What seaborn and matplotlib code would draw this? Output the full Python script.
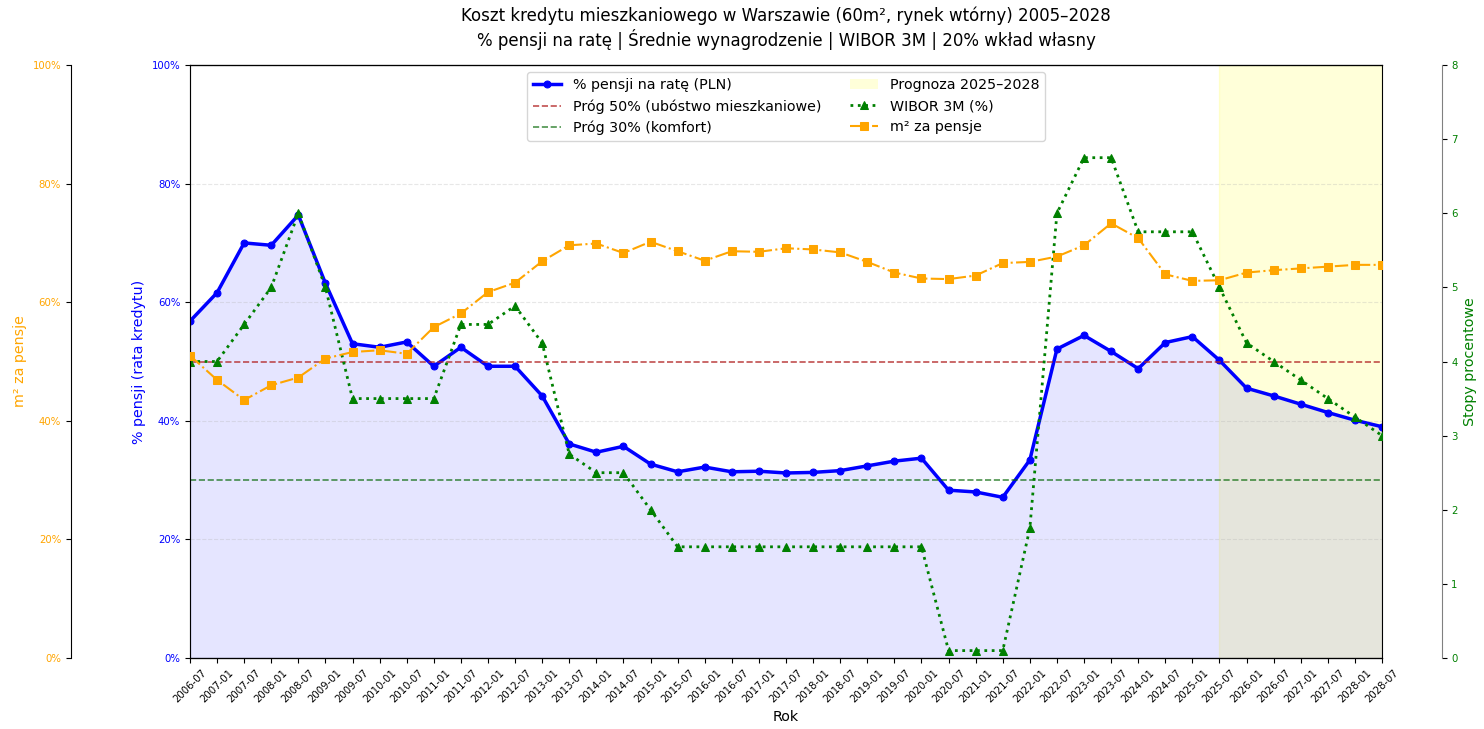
import matplotlib
matplotlib.use("Agg")
import matplotlib.pyplot as plt
import matplotlib.ticker as mtick
from matplotlib.patches import Patch
import seaborn as sns
import pandas as pd

# half-year periods
periods = ["2006-07", "2007-01", "2007-07", "2008-01", "2008-07", "2009-01", "2009-07",
           "2010-01", "2010-07", "2011-01", "2011-07", "2012-01", "2012-07", "2013-01",
           "2013-07", "2014-01", "2014-07", "2015-01", "2015-07", "2016-01", "2016-07",
           "2017-01", "2017-07", "2018-01", "2018-07", "2019-01", "2019-07", "2020-01",
           "2020-07", "2021-01", "2021-07", "2022-01", "2022-07", "2023-01", "2023-07",
           "2024-01", "2024-07", "2025-01", "2025-07", "2026-01", "2026-07", "2027-01",
           "2027-07", "2028-01", "2028-07"]

# share of salary going to the instalment
rate_share = [0.568, 0.616, 0.700, 0.696, 0.747, 0.632, 0.530, 0.524, 0.533, 0.492,
              0.524, 0.492, 0.492, 0.442, 0.361, 0.347, 0.357, 0.327, 0.314, 0.322,
              0.314, 0.315, 0.312, 0.313, 0.316, 0.324, 0.332, 0.337, 0.283, 0.280,
              0.271, 0.334, 0.521, 0.544, 0.517, 0.488, 0.532, 0.542, 0.502, 0.455,
              0.442, 0.428, 0.414, 0.401, 0.390]

# m2 bought with one salary
m2_per_salary = [0.510, 0.469, 0.435, 0.460, 0.473, 0.505, 0.516, 0.519, 0.513, 0.558,
                 0.581, 0.617, 0.633, 0.669, 0.696, 0.699, 0.683, 0.702, 0.686, 0.670,
                 0.686, 0.685, 0.691, 0.689, 0.684, 0.668, 0.650, 0.640, 0.639, 0.645,
                 0.666, 0.668, 0.677, 0.696, 0.733, 0.708, 0.647, 0.636, 0.637, 0.650,
                 0.654, 0.657, 0.660, 0.663, 0.663]

# WIBOR 3M (%)
wibor = [4.0, 4.0, 4.5, 5.0, 6.0, 5.0, 3.5, 3.5, 3.5, 3.5, 4.5, 4.5, 4.75, 4.25, 2.75,
         2.5, 2.5, 2.0, 1.5, 1.5, 1.5, 1.5, 1.5, 1.5, 1.5, 1.5, 1.5, 1.5, 0.1, 0.1, 0.1,
         1.75, 6.0, 6.75, 6.75, 5.75, 5.75, 5.75, 5.0, 4.25, 4.0, 3.75, 3.5, 3.25, 3.0]

forecast_start = "2025-07"

df = pd.DataFrame({"idx": range(len(periods)), "okres": periods,
                   "rata": rate_share, "m2": m2_per_salary, "wibor": wibor})

fig, ax = plt.subplots(figsize=(14.84, 7.29), dpi=100)
fig.subplots_adjust(left=0.128, right=0.9313, top=0.9108, bottom=0.0974)

ax2 = ax.twinx()
ax3 = ax.twinx()

# forecast span
fs = periods.index(forecast_start)
ax.axvspan(fs, len(periods) - 1, color="yellow", alpha=0.15, zorder=0)

# main series
ax.fill_between(df["idx"], df["rata"], color="blue", alpha=0.1, zorder=1)
sns.lineplot(data=df, x="idx", y="rata", ax=ax, color="blue", lw=2.5, marker="o",
             markersize=5, markeredgecolor="blue", label="% pensji na ratę (PLN)", legend=False)
ax.axhline(0.5, color="firebrick", ls="--", lw=1.2, alpha=0.8, label="Próg 50% (ubóstwo mieszkaniowe)")
ax.axhline(0.3, color="darkgreen", ls="--", lw=1.2, alpha=0.7, label="Próg 30% (komfort)")

sns.lineplot(data=df, x="idx", y="wibor", ax=ax2, color="green", lw=2, ls=":", marker="^",
             markersize=6, markeredgecolor="green", label="WIBOR 3M (%)", legend=False)
sns.lineplot(data=df, x="idx", y="m2", ax=ax3, color="orange", lw=1.5, ls="-.", marker="s",
             markersize=6, markeredgecolor="orange", label="m² za pensje", legend=False)

ax.set_xlim(0, len(periods) - 1)
ax.set_ylim(0, 1)
ax2.set_ylim(0, 8)
ax3.set_ylim(0, 1)

ax.set_xticks(range(len(periods)))
ax.set_xticklabels(periods, rotation=45, fontsize=7.3)
ax.set_xlabel("Rok", fontsize=10.3)
ax.set_ylabel("% pensji (rata kredytu)", color="blue", fontsize=10.3)
ax.yaxis.set_major_formatter(mtick.PercentFormatter(1.0, decimals=0))
ax.tick_params(axis="y", labelcolor="blue", labelsize=7.3)
ax.grid(axis="y", ls="--", alpha=0.3)
ax.spines["left"].set_color("gray")

ax2.spines["right"].set_position(("axes", 1.05))
ax2.spines["right"].set_color("gray")
ax2.set_ylabel("Stopy procentowe", color="green", fontsize=10.3)
ax2.tick_params(axis="y", labelcolor="green", labelsize=7.3)

ax3.spines["left"].set_position(("axes", -0.1))
ax3.spines["left"].set_visible(True)
ax3.spines["right"].set_visible(False)
ax3.yaxis.set_label_position("left")
ax3.yaxis.set_ticks_position("left")
ax3.yaxis.set_major_formatter(mtick.PercentFormatter(1.0, decimals=0))
ax3.set_ylabel("m² za pensje", color="orange", fontsize=10.3)
ax3.tick_params(axis="y", labelcolor="orange", labelsize=7.3)

ax.set_title("Koszt kredytu mieszkaniowego w Warszawie (60m², rynek wtórny) 2005–2028\n"
             "% pensji na ratę | Średnie wynagrodzenie | WIBOR 3M | 20% wkład własny",
             fontsize=12, pad=14)

h1, l1 = ax.get_legend_handles_labels()
h1 = [h for h, l in zip(h1, l1) if not l.startswith("_")]
l1 = [l for l in l1 if not l.startswith("_")]
span_patch = Patch(facecolor="yellow", alpha=0.15, label="Prognoza 2025–2028")
h2, l2 = ax2.get_legend_handles_labels()
h3, l3 = ax3.get_legend_handles_labels()
handles = h1 + [span_patch] + h2 + h3
labels = l1 + ["Prognoza 2025–2028"] + l2 + l3
leg = ax3.legend(handles, labels, loc="upper center", ncol=2, fontsize=10.3)

plt.savefig("out.png", dpi=100)
plt.close()
